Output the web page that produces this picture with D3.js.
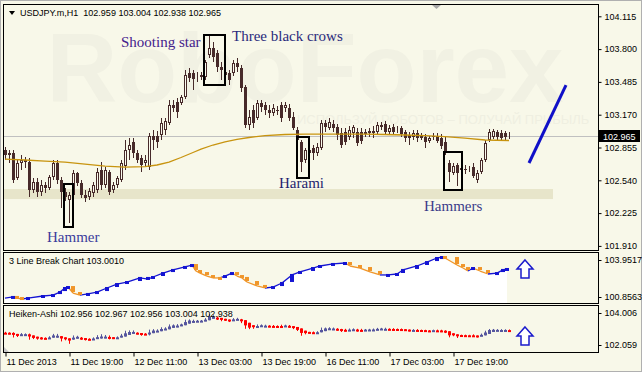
<!DOCTYPE html>
<html>
<head>
<meta charset="utf-8">
<script src="https://cdn.jsdelivr.net/npm/d3@7"></script>
<style>
  html, body { margin: 0; padding: 0; background: #f8f8e9; }
  svg { display: block; font-family: "Liberation Sans", Arial, sans-serif; }
</style>
</head>
<body>
<svg id="chart" width="642" height="372"></svg>
<script>
// USDJPY.m H1 candles
const opens = [102.832,102.784,102.803,102.563,102.707,102.736,102.717,102.448,102.525,102.429,
  102.496,102.467,102.573,102.707,102.544,102.429,102.352,102.400,102.611,102.515,
  102.400,102.381,102.419,102.448,102.640,102.496,102.621,102.448,102.496,102.544,
  102.678,102.832,102.909,102.803,102.755,102.707,102.669,102.966,102.966,102.976,
  103.024,103.091,103.264,103.293,103.283,103.341,103.571,103.571,103.533,103.533,
  103.533,103.744,103.811,103.763,103.629,103.581,103.571,103.571,103.667,103.619,
  103.437,103.072,103.216,103.139,103.283,103.264,103.216,103.187,103.216,103.264,
  103.235,103.235,103.149,103.024,102.909,102.736,102.832,102.851,102.803,102.851,
  103.091,103.043,103.082,103.053,102.995,103.005,102.957,102.995,103.005,103.005,
  103.005,102.995,103.014,103.005,103.072,103.082,103.005,103.053,103.024,103.043,
  103.005,102.976,102.957,102.995,102.966,102.957,102.918,102.966,102.966,102.947,
  102.909,102.707,102.611,102.688,102.640,102.650,102.640,102.669,102.544,102.621,
  102.736,102.928,102.957,103.005,102.995,102.995,102.959];
const highs = [102.861,102.832,102.832,102.736,102.784,102.765,102.755,102.563,102.563,102.544,
  102.525,102.592,102.736,102.736,102.573,102.467,102.429,102.640,102.621,102.544,
  102.448,102.467,102.525,102.659,102.717,102.669,102.640,102.525,102.583,102.736,
  102.928,102.947,102.947,102.832,102.784,102.784,102.995,103.024,103.014,103.139,
  103.139,103.312,103.312,103.331,103.360,103.600,103.619,103.600,103.581,103.581,
  103.696,103.936,103.869,103.792,103.677,103.600,103.600,103.696,103.715,103.648,
  103.456,103.216,103.264,103.312,103.312,103.293,103.264,103.274,103.254,103.293,
  103.293,103.274,103.197,103.053,102.928,102.851,102.861,102.880,102.899,103.120,
  103.120,103.139,103.120,103.082,103.043,103.043,103.062,103.072,103.043,103.043,
  103.034,103.043,103.062,103.101,103.101,103.110,103.072,103.082,103.062,103.062,
  103.024,103.005,103.024,103.024,102.995,102.986,102.966,102.995,102.995,102.986,
  102.957,102.736,102.707,102.707,102.688,102.688,102.678,102.707,102.640,102.755,
  102.928,103.034,103.034,103.024,103.024,103.014,103.004];
const lows = [102.736,102.707,102.515,102.544,102.640,102.659,102.381,102.419,102.381,102.390,
  102.419,102.448,102.544,102.506,102.275,102.342,102.131,102.381,102.486,102.371,
  102.333,102.352,102.381,102.419,102.448,102.467,102.400,102.419,102.467,102.525,
  102.640,102.736,102.755,102.707,102.621,102.678,102.640,102.832,102.851,102.928,
  102.976,103.072,103.197,103.139,103.264,103.322,103.485,103.408,103.485,103.504,
  103.504,103.715,103.677,103.581,103.504,103.523,103.456,103.542,103.581,103.389,
  103.043,103.024,103.043,103.120,103.197,103.168,103.139,103.158,103.168,103.101,
  103.197,103.110,103.024,102.909,102.621,102.707,102.774,102.736,102.774,102.832,
  103.005,103.024,103.005,102.928,102.851,102.880,102.928,102.947,102.870,102.890,
  102.957,102.957,102.947,102.986,103.024,102.976,102.986,102.986,102.995,102.957,
  102.909,102.880,102.928,102.909,102.928,102.851,102.899,102.928,102.899,102.842,
  102.784,102.525,102.592,102.486,102.611,102.602,102.621,102.563,102.515,102.602,
  102.717,102.909,102.938,102.928,102.918,102.928,102.938];
const closes = [102.784,102.803,102.544,102.707,102.736,102.717,102.448,102.525,102.429,102.496,
  102.467,102.573,102.707,102.544,102.429,102.381,102.400,102.611,102.515,102.400,
  102.371,102.438,102.496,102.621,102.496,102.640,102.429,102.496,102.563,102.707,
  102.832,102.880,102.803,102.736,102.688,102.736,102.966,102.928,102.909,103.091,
  103.110,103.264,103.235,103.197,103.341,103.552,103.523,103.514,103.542,103.552,
  103.677,103.811,103.725,103.629,103.600,103.552,103.504,103.667,103.629,103.427,
  103.072,103.149,103.091,103.283,103.245,103.216,103.187,103.235,103.206,103.139,
  103.264,103.139,103.043,102.928,102.717,102.832,102.803,102.803,102.861,103.091,
  103.053,103.101,103.043,102.976,102.880,102.909,103.024,103.053,102.899,102.918,
  102.986,103.014,102.995,103.072,103.053,103.005,103.043,103.005,103.024,102.986,
  102.947,102.947,102.995,102.947,102.947,102.909,102.947,102.957,102.918,102.870,
  102.813,102.621,102.678,102.611,102.659,102.640,102.650,102.582,102.611,102.736,
  102.899,103.005,103.014,102.957,102.947,102.957,102.965];

// moving average, read at a few bars
const maIdx = [0,5,10,15,20,25,30,35,38,41,44,47,49,52,55,58,61,65,70,75,80,85,90,95,100,105,110,115,120,126];
const maVal = [102.744,102.735,102.725,102.715,102.696,102.677,102.667,102.672,102.687,102.715,102.759,102.807,102.840,102.879,102.908,102.932,102.951,102.970,102.980,102.984,102.984,102.984,102.984,102.980,102.975,102.970,102.960,102.946,102.927,102.922];

// 3 Line Break indicator
const lbIdx = [0,2,3,4.25,5.75,9.5,12,13.75,15,15.75,17,18.75,20.75,23,25.5,28,30.5,33.75,35.75,37,39.5,42,45,46.75,47.75,48.75,50.5,52,53.75,55,56.75,58,59.25,60.5,63,65,67,69.25,71.75,73.75,77,78.75,82,85,86.25,88.75,91.25,93.75,95.75,98,99.5,103,105.5,108,109.25,110,113,114.5,115.75,117,118.75,120.75,123,124.5,125.5];
const lbVal = [100.77,100.86,100.77,100.69,100.77,100.94,101.02,101.27,101.61,101.69,101.19,101.02,101.11,101.27,101.61,101.94,102.11,102.45,102.36,102.53,102.86,103.12,103.37,103.53,103.03,102.86,102.61,102.45,102.45,102.61,102.86,102.61,102.45,102.11,101.78,101.61,101.69,102.03,102.70,102.95,103.28,103.45,103.62,103.70,103.45,103.28,102.95,102.70,102.70,102.78,103.12,103.45,103.78,104.12,104.20,104.12,103.53,103.28,103.03,103.28,103.03,102.78,102.86,103.12,103.20];
const lbUp = [1,1,0,0,1,1,1,1,1,1,0,0,1,1,1,1,1,1,1,1,1,1,1,1,0,0,0,0,0,1,1,0,0,0,0,0,1,1,1,1,1,1,1,1,0,0,0,0,1,1,1,1,1,1,1,0,0,0,0,1,0,0,1,1,1];

// axes
const priceTicks = [104.115,103.800,103.485,103.170,102.855,102.540,102.225,101.910];
const lbTicks = [103.9517,100.8563];
const haTicks = [104.006,102.059];
const timeIdx = [0,16,32,48,64,80,96,112];
const timeLabels = ["11 Dec 2013","11 Dec 19:00","12 Dec 11:00","13 Dec 03:00","13 Dec 19:00","16 Dec 11:00","17 Dec 03:00","17 Dec 19:00"];

// annotations: [text, bar index, price, colour]
const notes = [
  ["Shooting star", 29.0, 103.82, "#44228c"],
  ["Three black crows", 56.75, 103.878, "#2a2a7c"],
  ["Harami", 68.5, 102.466, "#1e1e6e"],
  ["Hammer", 10.5, 101.947, "#3c3c9c"],
  ["Hammers", 104.75, 102.245, "#3c3c8a"]
];
// pattern boxes: [first bar edge, last bar edge, top price, bottom price]
const boxes = [
  [14.75, 17.0, 102.504, 102.091],
  [49.75, 55.0, 103.935, 103.455],
  [73.0, 76.0, 102.956, 102.562],
  [109.75, 114.25, 102.811, 102.446]
];
const supportZone = [102.456, 102.360, 137];
const trend = [[131, 102.706], [140.25, 103.455]];
const lastPrice = 102.965;

const svg = d3.select("#chart");
const W = 642, H = 372;
const left = 3, right = 598;

svg.append("rect").attr("x", 0.5).attr("y", 0.5).attr("width", W - 1).attr("height", H - 1)
  .attr("fill", "#f8f8e9").attr("stroke", "#b0b0b0");

const x = d3.scaleLinear().domain([0, 126]).range([5, 509]);
const y = d3.scaleLinear().domain([101.910, 104.115]).range([245.9, 16.3]);
const yLb = d3.scaleLinear().domain([100.8563, 103.9517]).range([297, 260]);
const yHa = d3.scaleLinear().domain([102.059, 104.006]).range([345, 313]);

const defs = svg.append("defs");
defs.append("clipPath").attr("id", "clipMain").append("rect")
  .attr("x", left + 1).attr("y", 5).attr("width", right - left - 1).attr("height", 245);
defs.append("clipPath").attr("id", "clipLb").append("rect")
  .attr("x", left + 1).attr("y", 253).attr("width", right - left - 1).attr("height", 50);
defs.append("clipPath").attr("id", "clipHa").append("rect")
  .attr("x", left + 1).attr("y", 306).attr("width", right - left - 1).attr("height", 46);

// ---- main panel
const main = svg.append("g").attr("clip-path", "url(#clipMain)");

// faint watermark
main.append("text").attr("x", 305).attr("y", 102).attr("text-anchor", "middle")
  .attr("font-size", 98).attr("font-weight", "bold").attr("fill", "#f1f1e3")
  .text("RoboForex");
main.append("text").attr("x", 297).attr("y", 124)
  .attr("font-size", 13).attr("fill", "#efefe1")
  .text("ИСПОЛЬЗУЙ РОБОТОВ – ПОЛУЧАЙ ПРИБЫЛЬ");

main.append("rect")
  .attr("x", left).attr("width", x(supportZone[2]) - left)
  .attr("y", y(supportZone[0])).attr("height", y(supportZone[1]) - y(supportZone[0]))
  .attr("fill", "#e7e5ca");

main.append("line")
  .attr("x1", left).attr("x2", right)
  .attr("y1", Math.round(y(lastPrice)) + 0.5).attr("y2", Math.round(y(lastPrice)) + 0.5)
  .attr("stroke", "#c0c0c0");

const bars = opens.map((o, i) => ({ i, o, h: highs[i], l: lows[i], c: closes[i] }));
const candleColor = "#472a2a";

main.append("g").selectAll("line").data(bars).join("line")
  .attr("x1", d => x(d.i) + 0.5).attr("x2", d => x(d.i) + 0.5)
  .attr("y1", d => Math.round(y(d.h))).attr("y2", d => Math.round(y(d.l)))
  .attr("stroke", candleColor);

main.append("g").selectAll("rect").data(bars).join("rect")
  .each(function (d) {
    const top = Math.round(y(Math.max(d.o, d.c)));
    const bot = Math.round(y(Math.min(d.o, d.c)));
    const r = d3.select(this);
    if (d.c >= d.o) {
      r.attr("x", x(d.i) - 0.5).attr("width", 2)
        .attr("y", top + 0.5).attr("height", Math.max(bot - top - 1, 0))
        .attr("fill", "#fbfbee").attr("stroke", candleColor);
    } else {
      r.attr("x", x(d.i) - 1).attr("width", 3)
        .attr("y", top).attr("height", Math.max(bot - top, 1))
        .attr("fill", candleColor);
    }
  });

main.append("path")
  .datum(maIdx.map((d, k) => [d, maVal[k]]))
  .attr("fill", "none").attr("stroke", "#c8940f").attr("stroke-width", 1.3)
  .attr("d", d3.line().x(d => x(d[0])).y(d => y(d[1])));

main.append("g").selectAll("rect").data(boxes).join("rect")
  .attr("x", d => Math.round(x(d[0]))).attr("width", d => Math.round(x(d[1]) - x(d[0])))
  .attr("y", d => Math.round(y(d[2]))).attr("height", d => Math.round(y(d[3]) - y(d[2])))
  .attr("fill", "none").attr("stroke", "#000").attr("stroke-width", 2);

main.append("g").selectAll("text").data(notes).join("text")
  .attr("x", d => x(d[1])).attr("y", d => y(d[2]))
  .attr("font-family", "'Liberation Serif', 'Times New Roman', serif")
  .attr("font-size", 15).attr("fill", d => d[3])
  .text(d => d[0]);

main.append("line")
  .attr("x1", x(trend[0][0])).attr("y1", y(trend[0][1]))
  .attr("x2", x(trend[1][0])).attr("y2", y(trend[1][1]))
  .attr("stroke", "#1010c8").attr("stroke-width", 3);

// header
svg.append("path").attr("d", "M9,11 L15,11 L12,15 Z").attr("fill", "#000");
svg.append("text").attr("x", 20).attr("y", 16).attr("font-size", 9).attr("fill", "#000")
  .attr("xml:space", "preserve")
  .text(`USDJPY.m,H1  ${opens[126].toFixed(3)} ${highs[126].toFixed(3)} ${lows[126].toFixed(3)} ${closes[126].toFixed(3)}`);
svg.append("path").attr("d", "M432,5 L441,5 L436.5,9 Z").attr("fill", "#a8a8a8");

// ---- 3 line break panel
const lb = svg.append("g").attr("clip-path", "url(#clipLb)");
const lbPts = lbIdx.map((d, k) => ({ i: d, v: lbVal[k], up: lbUp[k] }));
lb.append("path").datum(lbPts)
  .attr("fill", "#ffffff")
  .attr("d", d3.area().x(d => x(d.i)).y0(303).y1(d => yLb(d.v)));
lb.append("g").selectAll("line").data(lbPts.slice(1)).join("line")
  .attr("x1", (d, k) => x(lbPts[k].i)).attr("y1", (d, k) => yLb(lbPts[k].v))
  .attr("x2", d => x(d.i)).attr("y2", d => yLb(d.v))
  .attr("stroke", d => d.up ? "#1414d2" : "#f0962a").attr("stroke-width", 1.3);
lb.append("g").selectAll("rect").data(lbPts.slice(1)).join("rect")
  .attr("x", d => x(d.i) - 2).attr("width", 4)
  .attr("y", (d, k) => Math.min(yLb(d.v), yLb(lbPts[k].v)) - 1)
  .attr("height", (d, k) => Math.max(Math.abs(yLb(d.v) - yLb(lbPts[k].v)), 3))
  .attr("fill", d => d.up ? "#1414d2" : "#f0962a");

svg.append("text").attr("x", 9).attr("y", 264).attr("font-size", 9).attr("fill", "#000")
  .text("3 Line Break Chart 103.0010");

// ---- Heiken-Ashi panel
const ha = [];
bars.forEach((b, i) => {
  const hc = (b.o + b.h + b.l + b.c) / 4;
  const ho = i === 0 ? (b.o + b.c) / 2 : (ha[i - 1].o + ha[i - 1].c) / 2;
  ha.push({ i, o: ho, c: hc, h: Math.max(b.h, ho, hc), l: Math.min(b.l, ho, hc) });
});
const haG = svg.append("g").attr("clip-path", "url(#clipHa)");
const haColor = d => d.c >= d.o ? "#55559e" : "#ff0000";
haG.append("g").selectAll("line").data(ha).join("line")
  .attr("x1", d => x(d.i) + 0.5).attr("x2", d => x(d.i) + 0.5)
  .attr("y1", d => yHa(d.h)).attr("y2", d => yHa(d.l))
  .attr("stroke", haColor);
haG.append("g").selectAll("rect").data(ha).join("rect")
  .attr("x", d => x(d.i) - 1).attr("width", 3)
  .attr("y", d => yHa(Math.max(d.o, d.c)))
  .attr("height", d => Math.max(Math.abs(yHa(d.o) - yHa(d.c)), 2))
  .attr("fill", haColor);

svg.append("text").attr("x", 9).attr("y", 317).attr("font-size", 9).attr("fill", "#000")
  .text("Heiken-Ashi 102.956 102.967 102.956 103.004 102.938");

// up arrows
[260, 327].forEach(t => {
  const cx = 525;
  svg.append("path")
    .attr("d", `M${cx},${t} L${cx + 8},${t + 9} L${cx + 4},${t + 9} L${cx + 4},${t + 18} L${cx - 4},${t + 18} L${cx - 4},${t + 9} L${cx - 8},${t + 9} Z`)
    .attr("fill", "#ffffff").attr("stroke", "#1a1acc").attr("stroke-width", 1.5);
});
svg.append("path").attr("d", "M4,347 L4,352 L9,352 Z").attr("fill", "#c8c8c8");

// ---- frames
[[4.5, 250.5], [252.5, 303.5], [305.5, 352.5]].forEach(([t, b]) => {
  svg.append("rect").attr("x", left + 0.5).attr("y", t)
    .attr("width", right - left).attr("height", b - t)
    .attr("fill", "none").attr("stroke", "#000");
});

// ---- axes
function styleAxis(g) {
  g.select(".domain").remove();
  g.selectAll("text").attr("font-size", 9).attr("fill", "#000")
    .attr("font-family", "'Liberation Sans', Arial, sans-serif");
  g.selectAll("line").attr("stroke", "#000");
}
svg.append("g").attr("transform", `translate(${right + 0.5},0)`)
  .call(d3.axisRight(y).tickValues(priceTicks).tickSize(3).tickPadding(3).tickFormat(d3.format(".3f")))
  .call(styleAxis);
svg.append("g").attr("transform", `translate(${right + 0.5},0)`)
  .call(d3.axisRight(yLb).tickValues(lbTicks).tickSize(3).tickPadding(3).tickFormat(d3.format(".4f")))
  .call(styleAxis);
svg.append("g").attr("transform", `translate(${right + 0.5},0)`)
  .call(d3.axisRight(yHa).tickValues(haTicks).tickSize(3).tickPadding(3).tickFormat(d3.format(".3f")))
  .call(styleAxis);

// last price tag
const ly = Math.round(y(lastPrice));
svg.append("rect").attr("x", right + 1).attr("y", ly - 6).attr("width", 41).attr("height", 12).attr("fill", "#000");
svg.append("text").attr("x", right + 5).attr("y", ly + 3.5).attr("font-size", 9).attr("fill", "#fff")
  .text(lastPrice.toFixed(3));

const tAxis = svg.append("g").attr("transform", "translate(0,352.5)")
  .call(d3.axisBottom(x).tickValues(timeIdx).tickSize(4).tickFormat((d, k) => timeLabels[k]))
  .call(styleAxis);
tAxis.selectAll(".tick line").attr("transform", "translate(0.5,0)");
tAxis.selectAll(".tick text").attr("text-anchor", "start").attr("x", 1).attr("y", 6).attr("dy", "0.71em");
</script>
</body>
</html>
